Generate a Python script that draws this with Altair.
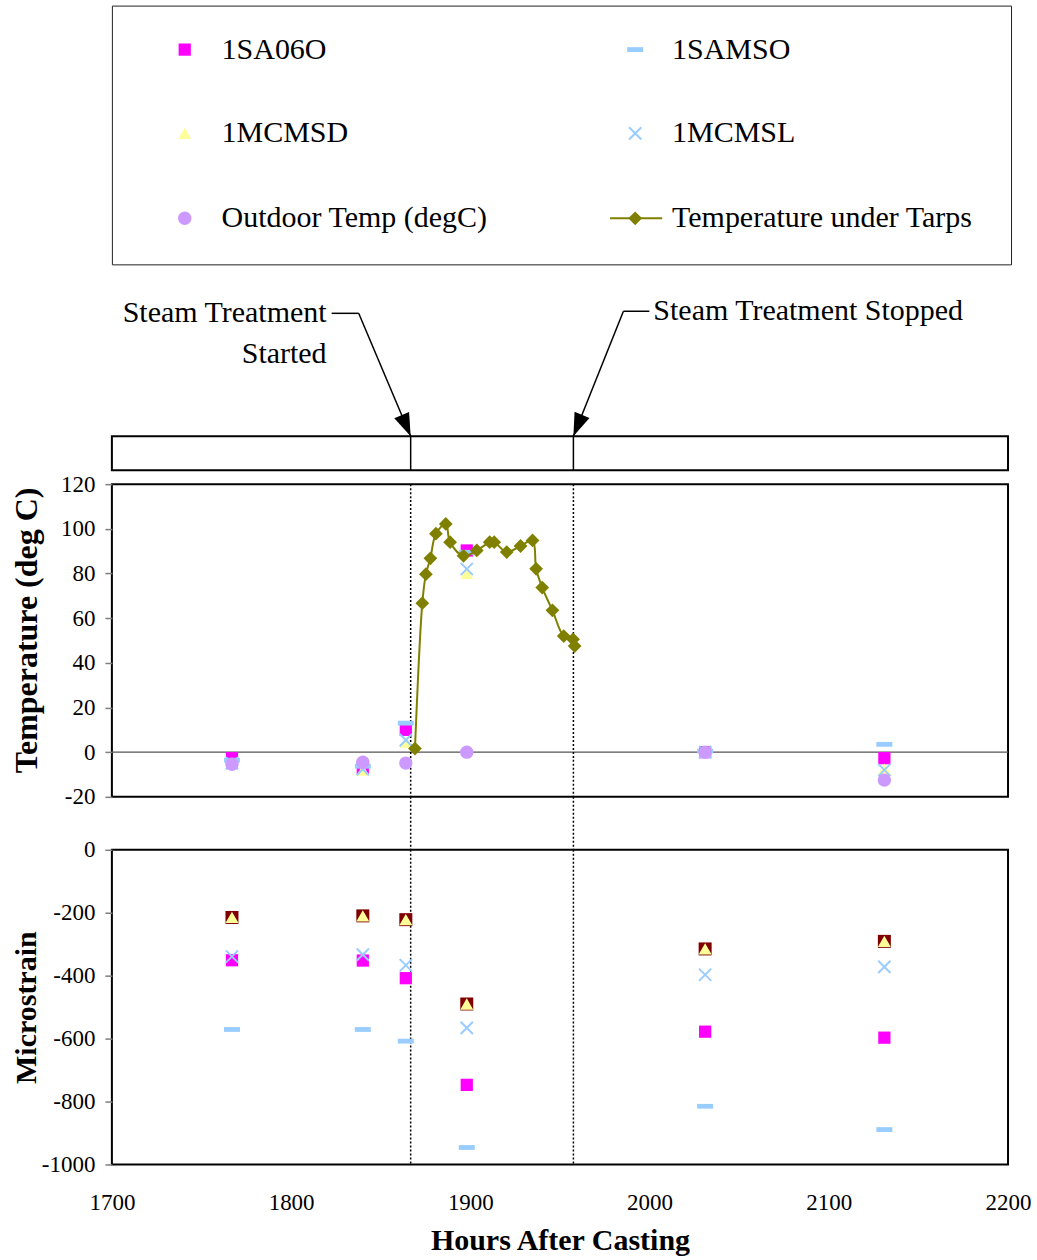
import altair as alt
import pandas as pd

FONT = "Liberation Serif"

# ---------------------------------------------------------------- data
# Survey times (hours after casting) at which the gauges were read
survey_hours = [1767, 1840, 1864, 1898, 2031, 2131]

# Gauge temperatures (deg C)
temp_1SA06O = [-2.7, -7.0, 10.0, 90.3, 0.0, -2.7]
temp_1SAMSO = [-3.6, -6.3, 13.0, 89.5, 0.5, 3.5]
temp_1MCMSD = [-5.0, -8.0, 4.5, 80.0, 0.0, -7.6]
temp_1MCMSL = [-5.0, -7.6, 5.4, 82.0, 0.0, -8.0]
temp_outdoor = [-5.4, -4.5, -4.9, 0.0, 0.0, -12.5]

# Gauge strains (microstrain)
strain_1SA06O = [-351, -352, -408, -747, -578, -597]
strain_1SAMSO = [-571, -571, -608, -946, -815, -889]
strain_1MCMSD = [-215, -210, -222, -490, -315, -291]
strain_1MCMSL = [-339, -333, -367, -566, -397, -372]

# Temperature logged under the tarps during steam curing
tarp_hours = [1869.1, 1873.2, 1875.2, 1877.7, 1880.8, 1886.3, 1888.7, 1896.2,
              1903.6, 1910.8, 1913.3, 1920.3, 1928.0, 1934.7, 1936.7, 1940.1,
              1945.8, 1952.1, 1957.3, 1958.2]
tarp_temp = [1.6, 66.7, 79.7, 86.8, 97.8, 102.2, 94.0, 87.9,
             90.3, 94.0, 94.0, 89.6, 92.3, 94.8, 82.1, 73.7,
             63.5, 52.0, 50.5, 47.5]

# Steam treatment start / stop times
steam_events = [1866.7, 1957.5]

series_names = ["1SA06O", "1SAMSO", "1MCMSD", "1MCMSL",
                "Outdoor Temp (degC)", "Temperature under Tarps"]

x_ticks = [1700, 1800, 1900, 2000, 2100, 2200]
temp_ticks = [-20, 0, 20, 40, 60, 80, 100, 120]
strain_ticks = [-1000, -800, -600, -400, -200, 0]

# ---------------------------------------------------------------- styles
DASH = "M-1,-0.3H1V0.3H-1Z"
CROSS = "M-1,-1L1,1M-1,1L1,-1"
OLIVE = "#808000"
TEXT_SIZE = 30

STYLE = {
    "1SA06O": dict(shape="square", size=150, filled=True, color="#FF00FF", opacity=1),
    "1SAMSO": dict(shape=DASH, size=256, filled=True, color="#99CCFF", opacity=1),
    "1MCMSD": dict(shape="triangle-up", size=170, filled=True, color="#FFFF99", opacity=1),
    "1MCMSL": dict(shape=CROSS, size=150, filled=False, color="#99CCFF",
                   strokeWidth=2, opacity=1),
    "Outdoor Temp (degC)": dict(shape="circle", size=180, filled=True,
                                color="#CC99FF", opacity=1),
    "Temperature under Tarps": dict(shape="diamond", size=190, filled=True,
                                    color=OLIVE, opacity=1),
}
BACKING = dict(shape="square", size=169, filled=True, color="#800000", opacity=1)

PLOT_W = 897
FRAME = alt.ViewBackground(stroke="black", strokeWidth=2)
NO_FRAME = alt.ViewBackground(strokeOpacity=0)

AXIS_COMMON = dict(
    labelFont=FONT, labelFontSize=23, labelColor="black",
    tickColor="#7f7f7f", tickSize=7, tickWidth=1.5,
    domain=False, grid=False,
    titleFont=FONT, titleFontWeight="bold", titleColor="black",
    labelExpr="'' + datum.value",
)


def x_enc(axis=None):
    return alt.X("hours:Q", scale=alt.Scale(domain=[1700, 2200], nice=False, zero=False),
                 axis=axis)


def points(values, style, y):
    df = pd.DataFrame({"hours": survey_hours, "v": values})
    return alt.Chart(df).mark_point(**style).encode(x=x_enc(), y=y)


def steam_rules(dash=True):
    df = pd.DataFrame({"hours": steam_events})
    if dash:
        m = alt.Chart(df).mark_rule(color="black", strokeWidth=1.5, strokeDash=[2, 2])
    else:
        m = alt.Chart(df).mark_rule(color="black", strokeWidth=1.5)
    return m.encode(x=x_enc())


# ---------------------------------------------------------------- legend box
LEG_MARK_X = [0.081, 0.582]
LEG_TEXT_X = [0.122, 0.623]
LEG_ROW_Y = [0.170, 0.494, 0.822]

leg_x = alt.Scale(domain=[0, 1])
leg_y = alt.Scale(domain=[0, 1], reverse=True)

legend_layers = []
for i, name in enumerate(series_names):
    row = pd.DataFrame({"lx": [LEG_MARK_X[i % 2]], "tx": [LEG_TEXT_X[i % 2]],
                        "ly": [LEG_ROW_Y[i // 2]], "name": [name]})
    if name == "Temperature under Tarps":
        seg = pd.DataFrame({"x1": [0.554], "x2": [0.612], "ly": [LEG_ROW_Y[i // 2]]})
        legend_layers.append(
            alt.Chart(seg).mark_rule(color=OLIVE, strokeWidth=2).encode(
                x=alt.X("x1:Q", scale=leg_x, axis=None), x2="x2:Q",
                y=alt.Y("ly:Q", scale=leg_y, axis=None)))
    legend_layers.append(
        alt.Chart(row).mark_point(**STYLE[name]).encode(
            x=alt.X("lx:Q", scale=leg_x, axis=None),
            y=alt.Y("ly:Q", scale=leg_y, axis=None)))
    legend_layers.append(
        alt.Chart(row).mark_text(align="left", baseline="middle", font=FONT,
                                 fontSize=TEXT_SIZE, color="black").encode(
            x=alt.X("tx:Q", scale=leg_x, axis=None),
            y=alt.Y("ly:Q", scale=leg_y, axis=None),
            text="name:N"))

legend_box = alt.layer(*legend_layers).properties(
    width=900, height=259, view=alt.ViewBackground(stroke="#222222", strokeWidth=1))

# ---------------------------------------------------------------- annotations
ann_y = alt.Scale(domain=[0, 1], reverse=True)
ann_text = pd.DataFrame({
    "hours": [1819.8, 1819.8, 2002.1],
    "ay": [0.285, 0.523, 0.273],
    "label": ["Steam Treatment", "Started", "Steam Treatment Stopped"],
    "align": ["right", "right", "left"],
})
ann_lines = pd.DataFrame({
    "hours": [1822.6, 1837.7, 1985.4, 1985.4],
    "hours2": [1837.7, steam_events[0], 1999.9, steam_events[1]],
    "ay": [0.285, 0.285, 0.273, 0.273],
    "ay2": [0.285, 1.0, 0.273, 1.0],
})
ann_heads = pd.DataFrame({"hours": steam_events, "ay": [1.0, 1.0], "ang": [337, 22]})

ann_left = alt.Chart(ann_text[ann_text["align"] == "right"]).mark_text(
    align="right", baseline="middle", font=FONT, fontSize=TEXT_SIZE, color="black").encode(
    x=x_enc(), y=alt.Y("ay:Q", scale=ann_y, axis=None), text="label:N")
ann_right = alt.Chart(ann_text[ann_text["align"] == "left"]).mark_text(
    align="left", baseline="middle", font=FONT, fontSize=TEXT_SIZE, color="black").encode(
    x=x_enc(), y=alt.Y("ay:Q", scale=ann_y, axis=None), text="label:N")
ann_leaders = alt.Chart(ann_lines).mark_rule(color="black", strokeWidth=1.5).encode(
    x=x_enc(), x2="hours2:Q", y=alt.Y("ay:Q", scale=ann_y, axis=None), y2="ay2:Q")
ann_arrows = alt.Chart(ann_heads).mark_point(
    shape="M0,0L-0.7,-2L0.7,-2Z", size=529, filled=True, color="black", opacity=1).encode(
    x=x_enc(), y=alt.Y("ay:Q", scale=ann_y, axis=None), angle=alt.Angle("ang:Q", scale=None))

annotations = alt.layer(ann_leaders, ann_left, ann_right, ann_arrows).properties(
    width=PLOT_W, height=172, view=NO_FRAME)

# ---------------------------------------------------------------- steam band
band = steam_rules(dash=False).properties(width=PLOT_W, height=34, view=FRAME)

# ---------------------------------------------------------------- spacers
gap_small = alt.Chart(pd.DataFrame({"hours": steam_events})).mark_rule(opacity=0).encode(
    x=x_enc()).properties(width=PLOT_W, height=14, view=NO_FRAME)
gap_large = steam_rules().properties(width=PLOT_W, height=53, view=NO_FRAME)

# ---------------------------------------------------------------- temperature panel
temp_y = alt.Y("v:Q", scale=alt.Scale(domain=[-20, 120], nice=False, zero=False),
               axis=alt.Axis(values=temp_ticks, title="Temperature (deg C)",
                             titleX=-85, titleY=146, titleBaseline="middle",
                             titleFontSize=32, labelPadding=10, **AXIS_COMMON))

zero_line = alt.Chart(pd.DataFrame({"v": [0]})).mark_rule(
    color="#555555", strokeWidth=1.2).encode(y=temp_y)

tarp_df = pd.DataFrame({"hours": tarp_hours, "v": tarp_temp})
tarp_line = alt.Chart(tarp_df).mark_line(
    color=OLIVE, strokeWidth=2, interpolate="catmull-rom").encode(x=x_enc(), y=temp_y)
tarp_pts = alt.Chart(tarp_df).mark_point(**STYLE["Temperature under Tarps"]).encode(
    x=x_enc(), y=temp_y)

temp_panel = alt.layer(
    zero_line,
    steam_rules(),
    points(temp_1SA06O, STYLE["1SA06O"], temp_y),
    points(temp_1SAMSO, STYLE["1SAMSO"], temp_y),
    points(temp_1MCMSD, STYLE["1MCMSD"], temp_y),
    points(temp_1MCMSL, STYLE["1MCMSL"], temp_y),
    points(temp_outdoor, STYLE["Outdoor Temp (degC)"], temp_y),
    tarp_line,
    tarp_pts,
).properties(width=PLOT_W, height=313, view=FRAME)

# ---------------------------------------------------------------- strain panel
strain_y = alt.Y("v:Q", scale=alt.Scale(domain=[-1000, 0], nice=False, zero=False),
                 axis=alt.Axis(values=strain_ticks, title="Microstrain",
                               titleX=-85, titleBaseline="middle",
                               titleFontSize=30, labelPadding=10, **AXIS_COMMON))
hours_axis = alt.Axis(values=x_ticks, title="Hours After Casting", ticks=False,
                      labelFlush=False, labelPadding=27, titlePadding=11,
                      titleFontSize=30, **AXIS_COMMON)


def strain_points(values, style):
    df = pd.DataFrame({"hours": survey_hours, "v": values})
    return alt.Chart(df).mark_point(**style).encode(x=x_enc(hours_axis), y=strain_y)


strain_panel = alt.layer(
    steam_rules().encode(x=x_enc(hours_axis)),
    strain_points(strain_1MCMSD, BACKING),
    strain_points(strain_1SA06O, STYLE["1SA06O"]),
    strain_points(strain_1SAMSO, STYLE["1SAMSO"]),
    strain_points(strain_1MCMSD, STYLE["1MCMSD"]),
    strain_points(strain_1MCMSL, STYLE["1MCMSL"]),
).properties(width=PLOT_W, height=315, view=FRAME)

# ---------------------------------------------------------------- assemble
chart = alt.vconcat(
    legend_box, annotations, band, gap_small, temp_panel, gap_large, strain_panel,
    spacing=0, bounds="flush",
).properties(
    padding={"left": 10, "top": 4, "right": 5, "bottom": 2},
).configure(font=FONT)

chart.save("out.html", embed_options={"renderer": "svg", "actions": False})
